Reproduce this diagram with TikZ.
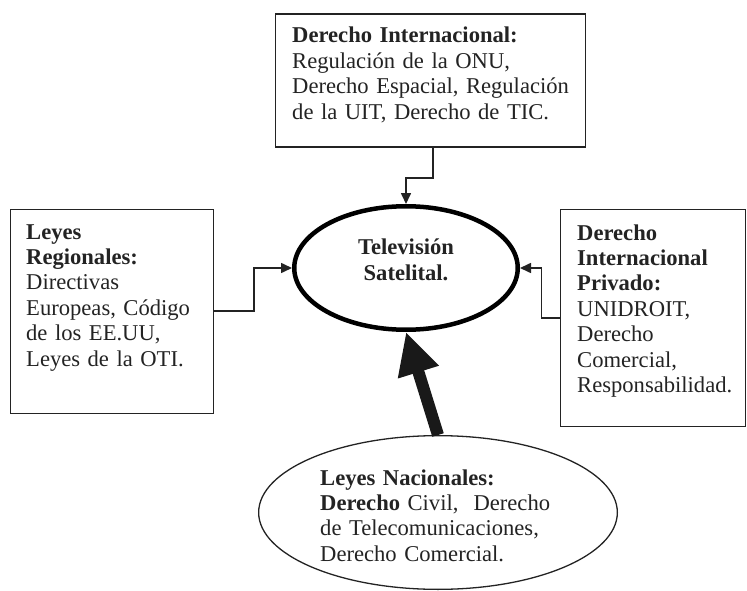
\documentclass[tikz,border=0pt]{standalone}
\usepackage{fontspec}
\setmainfont{Liberation Serif}
\usetikzlibrary{arrows.meta,shapes.geometric}
\definecolor{ink}{RGB}{35,35,35}
\begin{document}
\begin{tikzpicture}[x=1pt,y=-1pt,
  every node/.style={font=\fontsize{22.6pt}{25.4pt}\selectfont, text=ink},
  box/.style={draw=ink, line width=1.5pt, rectangle, inner sep=0pt, anchor=north west},
  txt/.style={align=left, inner sep=0pt, anchor=base west},
  conn/.style={draw=ink, line width=1.6pt, -{Triangle[length=11pt,width=10pt]}},
]
\useasboundingbox (0,0) rectangle (747,591);

% boxes
\node[box, minimum width=310pt, minimum height=133pt] (topbox) at (274.5,13.5) {};
\node[box, minimum width=203pt, minimum height=204pt] (leftbox) at (9.5,208.5) {};
\node[box, minimum width=185pt, minimum height=217pt] (rightbox) at (559.5,208.5) {};

% texts
\node[txt, text width=290pt] (toptxt) at (292,43)
  {\textbf{Derecho Internacional:}\\Regulación de la ONU,\\Derecho Espacial, Regulación\\de la UIT, Derecho de TIC.};
\node[txt, text width=185pt] (lefttxt) at (26,239)
  {\textbf{Leyes}\\\textbf{Regionales:}\\Directivas\\Europeas, Código\\de los EE.UU,\\Leyes de la OTI.};
\node[txt, text width=165pt] (righttxt) at (577,240)
  {\textbf{Derecho}\\\textbf{Internacional}\\\textbf{Privado:}\\UNIDROIT,\\Derecho\\Comercial,\\Responsabilidad.};

% central ellipse
\node[ellipse, draw=black, line width=4.5pt, minimum width=223.5pt, minimum height=123.5pt, inner sep=0pt] (tv) at (406,268) {};
\node[font=\fontsize{22.6pt}{25.4pt}\selectfont\bfseries, align=center, inner sep=0pt, anchor=base] (tvtxt) at (406,280) {Televisión\\Satelital.};

% bottom ellipse
\node[ellipse, draw=ink, line width=1.3pt, minimum width=358.7pt, minimum height=153.7pt, inner sep=0pt] (nat) at (438,512.5) {};
\node[txt, text width=270pt] (nattxt) at (320,485)
  {\textbf{Leyes Nacionales:}\\\textbf{Derecho} Civil,\ \ Derecho\\de Telecomunicaciones,\\Derecho Comercial.};

% connectors
\draw[conn] ([xshift=2.5pt]topbox.south) -- ++(0,30) -| (tv.north);
\draw[conn] (leftbox.east) -- ++(40,0) |- (tv.west);
\draw[conn] (rightbox.west) -- ++(-18,0) |- (tv.east);
\draw[draw=black!90, line width=12pt, -{Triangle[length=42pt,width=40pt]}] (nat.north) -- (tv.south);
\end{tikzpicture}
\end{document}
